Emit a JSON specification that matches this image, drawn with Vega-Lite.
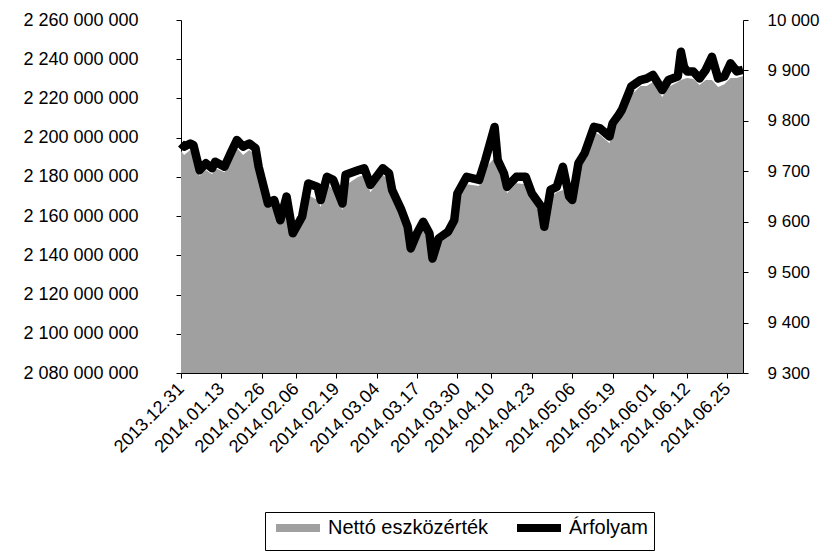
{
  "$schema": "https://vega.github.io/schema/vega-lite/v6.json",
  "width": 562,
  "height": 353,
  "autosize": "none",
  "padding": {"left": 181, "top": 20, "right": 89, "bottom": 186},
  "background": "white",
  "config": {
    "view": {"stroke": null},
    "font": "Liberation Sans",
    "axis": {
      "grid": false,
      "domainColor": "#000000",
      "domainWidth": 1,
      "tickColor": "#000000",
      "tickSize": 5,
      "labelColor": "#000000",
      "labelFont": "Liberation Sans",
      "labelFontSize": 17,
      "title": null
    }
  },
  "data": {
    "values": [
      {"date": "2013-12-31", "price": 9755, "nav": 2193160000},
      {"date": "2014-01-01", "price": 9749, "nav": 2191100000},
      {"date": "2014-01-03", "price": 9755, "nav": 2193700000},
      {"date": "2014-01-04", "price": 9752, "nav": 2192100000},
      {"date": "2014-01-06", "price": 9702, "nav": 2180400000},
      {"date": "2014-01-08", "price": 9716, "nav": 2183500000},
      {"date": "2014-01-10", "price": 9706, "nav": 2181400000},
      {"date": "2014-01-11", "price": 9719, "nav": 2184500000},
      {"date": "2014-01-14", "price": 9709, "nav": 2182400000},
      {"date": "2014-01-16", "price": 9736, "nav": 2188600000},
      {"date": "2014-01-18", "price": 9762, "nav": 2194700000},
      {"date": "2014-01-20", "price": 9749, "nav": 2191100000},
      {"date": "2014-01-22", "price": 9755, "nav": 2193700000},
      {"date": "2014-01-24", "price": 9746, "nav": 2191100000},
      {"date": "2014-01-25", "price": 9709, "nav": 2182400000},
      {"date": "2014-01-28", "price": 9636, "nav": 2165600000},
      {"date": "2014-01-30", "price": 9643, "nav": 2164600000},
      {"date": "2014-02-01", "price": 9603, "nav": 2156900000},
      {"date": "2014-02-03", "price": 9650, "nav": 2162000000},
      {"date": "2014-02-05", "price": 9577, "nav": 2148800000},
      {"date": "2014-02-08", "price": 9610, "nav": 2156900000},
      {"date": "2014-02-10", "price": 9676, "nav": 2170700000},
      {"date": "2014-02-13", "price": 9669, "nav": 2168200000},
      {"date": "2014-02-14", "price": 9643, "nav": 2164600000},
      {"date": "2014-02-16", "price": 9689, "nav": 2176800000},
      {"date": "2014-02-18", "price": 9683, "nav": 2173300000},
      {"date": "2014-02-21", "price": 9636, "nav": 2163100000},
      {"date": "2014-02-22", "price": 9693, "nav": 2175800000},
      {"date": "2014-02-26", "price": 9702, "nav": 2179900000},
      {"date": "2014-02-28", "price": 9706, "nav": 2180900000},
      {"date": "2014-03-02", "price": 9673, "nav": 2172200000},
      {"date": "2014-03-06", "price": 9706, "nav": 2180900000},
      {"date": "2014-03-08", "price": 9696, "nav": 2178400000},
      {"date": "2014-03-09", "price": 9663, "nav": 2169700000},
      {"date": "2014-03-12", "price": 9623, "nav": 2160500000},
      {"date": "2014-03-14", "price": 9590, "nav": 2151800000},
      {"date": "2014-03-15", "price": 9547, "nav": 2142700000},
      {"date": "2014-03-17", "price": 9577, "nav": 2153900000},
      {"date": "2014-03-19", "price": 9600, "nav": 2155900000},
      {"date": "2014-03-21", "price": 9577, "nav": 2149800000},
      {"date": "2014-03-22", "price": 9527, "nav": 2136500000},
      {"date": "2014-03-24", "price": 9567, "nav": 2146200000},
      {"date": "2014-03-27", "price": 9580, "nav": 2149300000},
      {"date": "2014-03-29", "price": 9603, "nav": 2154900000},
      {"date": "2014-03-30", "price": 9656, "nav": 2168200000},
      {"date": "2014-04-02", "price": 9689, "nav": 2176300000},
      {"date": "2014-04-06", "price": 9683, "nav": 2175300000},
      {"date": "2014-04-08", "price": 9722, "nav": 2184500000},
      {"date": "2014-04-11", "price": 9788, "nav": 2189600000},
      {"date": "2014-04-12", "price": 9722, "nav": 2184500000},
      {"date": "2014-04-14", "price": 9696, "nav": 2178400000},
      {"date": "2014-04-15", "price": 9669, "nav": 2171700000},
      {"date": "2014-04-18", "price": 9689, "nav": 2176800000},
      {"date": "2014-04-21", "price": 9689, "nav": 2176300000},
      {"date": "2014-04-23", "price": 9656, "nav": 2169200000},
      {"date": "2014-04-26", "price": 9630, "nav": 2162000000},
      {"date": "2014-04-27", "price": 9590, "nav": 2152900000},
      {"date": "2014-04-29", "price": 9663, "nav": 2169200000},
      {"date": "2014-05-01", "price": 9669, "nav": 2172200000},
      {"date": "2014-05-03", "price": 9709, "nav": 2173300000},
      {"date": "2014-05-05", "price": 9650, "nav": 2168200000},
      {"date": "2014-05-06", "price": 9643, "nav": 2166100000},
      {"date": "2014-05-08", "price": 9716, "nav": 2183500000},
      {"date": "2014-05-10", "price": 9736, "nav": 2188600000},
      {"date": "2014-05-13", "price": 9788, "nav": 2202900000},
      {"date": "2014-05-15", "price": 9785, "nav": 2201300000},
      {"date": "2014-05-18", "price": 9769, "nav": 2197200000},
      {"date": "2014-05-19", "price": 9795, "nav": 2203900000},
      {"date": "2014-05-21", "price": 9812, "nav": 2208000000},
      {"date": "2014-05-22", "price": 9822, "nav": 2210500000},
      {"date": "2014-05-25", "price": 9868, "nav": 2221700000},
      {"date": "2014-05-28", "price": 9881, "nav": 2226300000},
      {"date": "2014-05-30", "price": 9884, "nav": 2226300000},
      {"date": "2014-06-01", "price": 9891, "nav": 2228400000},
      {"date": "2014-06-04", "price": 9861, "nav": 2220700000},
      {"date": "2014-06-06", "price": 9881, "nav": 2225800000},
      {"date": "2014-06-09", "price": 9888, "nav": 2228400000},
      {"date": "2014-06-10", "price": 9937, "nav": 2229400000},
      {"date": "2014-06-11", "price": 9907, "nav": 2229900000},
      {"date": "2014-06-12", "price": 9898, "nav": 2230400000},
      {"date": "2014-06-14", "price": 9898, "nav": 2229900000},
      {"date": "2014-06-16", "price": 9884, "nav": 2226800000},
      {"date": "2014-06-18", "price": 9901, "nav": 2229400000},
      {"date": "2014-06-20", "price": 9927, "nav": 2229400000},
      {"date": "2014-06-22", "price": 9884, "nav": 2225800000},
      {"date": "2014-06-24", "price": 9888, "nav": 2227300000},
      {"date": "2014-06-26", "price": 9914, "nav": 2230400000},
      {"date": "2014-06-28", "price": 9898, "nav": 2230400000},
      {"date": "2014-06-30", "price": 9901, "nav": 2231400000}
    ]
  },
  "encoding": {
    "x": {
      "field": "date",
      "type": "temporal",
      "scale": {
        "type": "utc",
        "domain": [
          {"year": 2013, "month": 12, "date": 31, "utc": true},
          {"year": 2014, "month": 6, "date": 30, "utc": true}
        ]
      },
      "axis": {
        "labelExpr": "utcFormat(datum.value, '%Y.%m.%d')",
        "labelAngle": -45,
        "labelAlign": "right",
        "labelBaseline": "middle",
        "labelPadding": 8,
        "labelDx": 3,
        "labelFontSize": 18,
        "labelOverlap": false,
        "labelFlush": false,
        "values": [
          {"year": 2013, "month": 12, "date": 31, "utc": true},
          {"year": 2014, "month": 1, "date": 13, "utc": true},
          {"year": 2014, "month": 1, "date": 26, "utc": true},
          {"year": 2014, "month": 2, "date": 6, "utc": true},
          {"year": 2014, "month": 2, "date": 19, "utc": true},
          {"year": 2014, "month": 3, "date": 4, "utc": true},
          {"year": 2014, "month": 3, "date": 17, "utc": true},
          {"year": 2014, "month": 3, "date": 30, "utc": true},
          {"year": 2014, "month": 4, "date": 10, "utc": true},
          {"year": 2014, "month": 4, "date": 23, "utc": true},
          {"year": 2014, "month": 5, "date": 6, "utc": true},
          {"year": 2014, "month": 5, "date": 19, "utc": true},
          {"year": 2014, "month": 6, "date": 1, "utc": true},
          {"year": 2014, "month": 6, "date": 12, "utc": true},
          {"year": 2014, "month": 6, "date": 25, "utc": true}
        ]
      }
    }
  },
  "layer": [
    {
      "mark": {"type": "area", "opacity": 1},
      "encoding": {
        "y": {
          "field": "nav",
          "type": "quantitative",
          "scale": {"domain": [2080000000, 2260000000], "zero": false, "nice": false},
          "axis": {
            "orient": "left",
            "values": [2080000000, 2100000000, 2120000000, 2140000000, 2160000000, 2180000000, 2200000000, 2220000000, 2240000000, 2260000000],
            "labelExpr": "'2 ' + format((datum.value - 2000000000) / 1000000, '03d') + ' 000 000'",
            "labelFontSize": 18,
            "labelPadding": 38
          }
        },
        "y2": {"datum": 2080000000},
        "color": {
          "datum": "Nettó eszközérték",
          "type": "nominal",
          "scale": {"domain": ["Nettó eszközérték", "Árfolyam"], "range": ["#a0a0a0", "#000000"]},
          "legend": {
            "title": null,
            "orient": "none",
            "legendX": 84,
            "legendY": 492,
            "direction": "horizontal",
            "strokeColor": "#000000",
            "padding": 6,
            "labelFontSize": 20,
            "labelColor": "#000000",
            "labelFont": "Liberation Sans",
            "labelLimit": 400,
            "symbolType": "M-1,0H7.8",
            "symbolSize": 100,
            "symbolStrokeWidth": 8,
            "columnPadding": 12,
            "labelOffset": 37,
            "encode": {
              "symbols": {
                "update": {
                  "stroke": {"scale": "color", "field": "value"},
                  "strokeWidth": {"signal": "datum.value === 'Árfolyam' ? 5 : 11"},
                  "fill": {"value": "transparent"},
                  "opacity": {"value": 1}
                }
              }
            }
          }
        }
      }
    },
    {
      "mark": {"type": "line", "strokeWidth": 8.5, "strokeJoin": "round", "strokeCap": "butt"},
      "encoding": {
        "y": {
          "field": "price",
          "type": "quantitative",
          "scale": {"domain": [9300, 10000], "zero": false, "nice": false},
          "axis": {
            "orient": "right",
            "values": [9300, 9400, 9500, 9600, 9700, 9800, 9900, 10000],
            "labelExpr": "replace(format(datum.value, ','), ',', ' ')",
            "labelPadding": 19
          }
        },
        "color": {"datum": "Árfolyam", "type": "nominal"}
      }
    }
  ],
  "resolve": {"scale": {"y": "independent"}}
}
